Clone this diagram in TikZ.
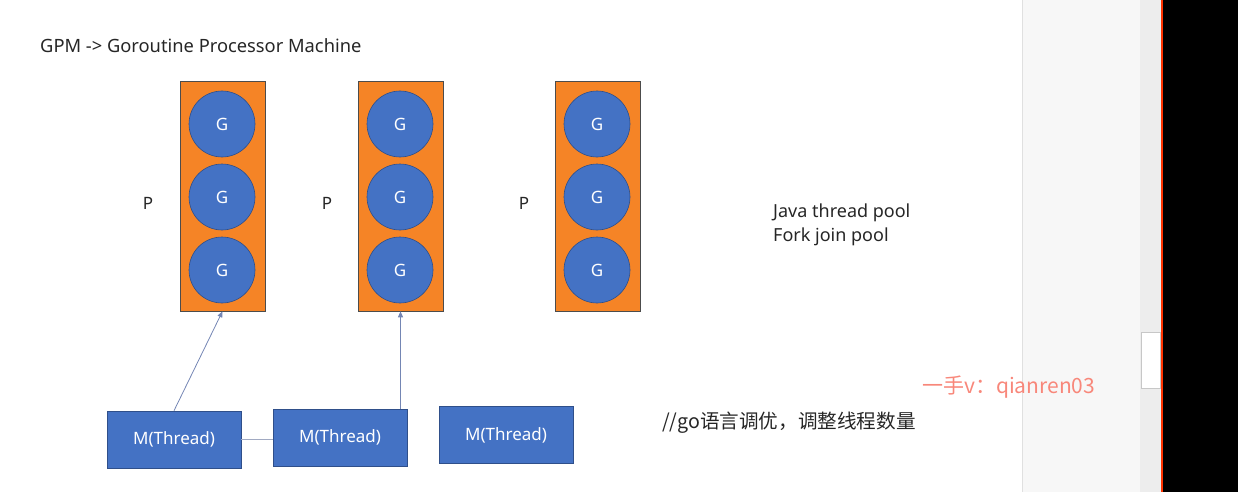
\documentclass[tikz,border=0pt]{standalone}
\usepackage{fontspec}
\setmainfont{Noto Sans}
\newfontfamily\cjk{Noto Sans CJK SC}
\usepackage{xcolor}
\usetikzlibrary{arrows.meta,positioning,calc}

\definecolor{porange}{HTML}{F58426}
\definecolor{gblue}{HTML}{4472C4}
\definecolor{gedge}{HTML}{2F4F8A}
\definecolor{link}{HTML}{7486B4}
\definecolor{mark}{HTML}{F8877A}

\begin{document}
\begin{tikzpicture}[
  x=1pt, y=-1pt,
  font=\fontsize{17}{20}\selectfont,
  pbox/.style={draw=black!70,fill=porange,line width=0.6pt,minimum width=85pt,minimum height=230pt},
  gor/.style={circle,draw=gedge,fill=gblue,line width=0.6pt,minimum size=66pt,inner sep=0pt,text=white},
  mbox/.style={draw=gedge,fill=gblue,line width=0.6pt,minimum width=134pt,minimum height=57pt,text=white},
  plabel/.style={text=black!85},
  note/.style={anchor=west,text=black!85,inner sep=0pt,font=\fontsize{18}{21}\selectfont},
  line/.style={link,line width=0.8pt},
]
\useasboundingbox (0,0) rectangle (1238,492);
% window chrome on the right
\fill[black!3] (1022,0) rectangle (1161,492);
\fill[black!7] (1140,0) rectangle (1161,492);
\draw[black!12,line width=1pt] (1022.5,0) -- (1022.5,492);
\draw[black!22,fill=white,line width=0.6pt] (1141,332) rectangle (1160,388);
\fill[black] (1162,0) rectangle (1238,492);
\draw[red!60!orange,line width=1.2pt] (1162,0) -- (1162,492);

\node[note,font=\fontsize{18.3}{21}\selectfont] (title) at (40,46) {GPM -> Goroutine Processor Machine};

% processors
\node[pbox] (p1) at (222.5,196) {};
\node[pbox] (p2) at (400.5,196) {};
\node[pbox] (p3) at (597.5,196) {};
\node[plabel] (l1) at (148,203) {P};
\node[plabel] (l2) at (327,203) {P};
\node[plabel] (l3) at (524,203) {P};

% goroutines
\node[gor] (g11) at (222,124) {G};
\node[gor] (g12) at (222,197) {G};
\node[gor] (g13) at (222,270) {G};
\node[gor] (g21) at (400,124) {G};
\node[gor] (g22) at (400,197) {G};
\node[gor] (g23) at (400,270) {G};
\node[gor] (g31) at (597,124) {G};
\node[gor] (g32) at (597,197) {G};
\node[gor] (g33) at (597,270) {G};

% machines
\node[mbox] (m1) at (174,439.5) {M(Thread)};
\node[mbox] (m2) at (340,437.5) {M(Thread)};
\node[mbox] (m3) at (506,435) {M(Thread)};

\draw[line,-{Triangle[length=6pt,width=5pt]}] (m1.north) -- (p1.south);
\draw[line,-{Triangle[length=6pt,width=5pt]}] (m2.north -| p2.south) -- (p2.south);
\draw[line,black!15!link!60] (m1.east) -- (m1.east -| m2.west);

\node[note] (java) at (773,213) {Java thread pool};
\node[note] (fork) at (773,237) {Fork join pool};
\node[note,font=\cjk\fontsize{19.6}{22}\selectfont] (tune) at (662,423) {//go语言调优，调整线程数量};
\node[note,text=mark,font=\cjk\fontsize{21}{24}\selectfont] (wm) at (922,387) {一手v：qianren03};
\end{tikzpicture}
\end{document}
